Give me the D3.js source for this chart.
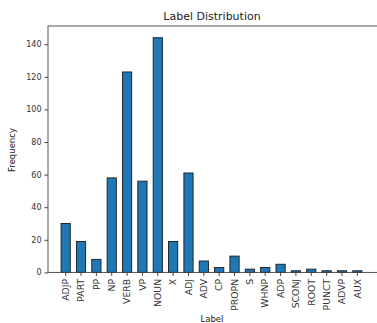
<!DOCTYPE html>
<html><head><meta charset="utf-8">
<script src="https://cdn.jsdelivr.net/npm/d3@7"></script>
<style>
html,body{margin:0;padding:0;background:#fff;overflow:hidden;}
svg{display:block;font-family:"DejaVu Sans",sans-serif;}
</style></head>
<body>
<svg id="chart" width="377" height="323"></svg>
<script>
const categories = ["ADJP","PART","PP","NP","VERB","VP","NOUN","X","ADJ","ADV","CP","PROPN","S","WHNP","ADP","SCONJ","ROOT","PUNCT","ADVP","AUX"];
const frequencies = [30,19,8,58,123,56,144,19,61,7,3,10,2,3,5,1,2,1,1,1];
const yTicks = [0,20,40,60,80,100,120,140];
const title = "Label Distribution";
const xLabel = "Label";
const yLabel = "Frequency";

(function(){
const svg = d3.select("#chart");
const pLeft = 48, pRight = 380, pTop = 26, pBottom = 272.4;

const x = d3.scaleBand().domain(categories).range([58, 365]).paddingInner(0).paddingOuter(0);
const y = d3.scaleLinear().domain([0, d3.max(frequencies) * 1.05]).range([pBottom, pTop]);
const barW = x.bandwidth() * 0.6;

// bars
svg.append("g").selectAll("rect").data(categories).join("rect")
  .attr("x", (d) => x(d) + x.bandwidth()/2 - barW/2)
  .attr("y", (d, i) => y(frequencies[i]))
  .attr("width", barW)
  .attr("height", (d, i) => pBottom - y(frequencies[i]))
  .attr("fill", "#1f77b4")
  .attr("stroke", "#1a1a1a")
  .attr("stroke-width", 0.9);

// frame
svg.append("rect").attr("x", pLeft).attr("y", pTop).attr("width", pRight - pLeft).attr("height", pBottom - pTop)
  .attr("fill", "none").attr("stroke", "#444").attr("stroke-width", 0.9);

// y axis
const ya = svg.append("g").attr("transform", `translate(${pLeft},0)`)
  .call(d3.axisLeft(y).tickValues(yTicks).tickSize(3.5).tickPadding(3));
ya.select(".domain").remove();
ya.selectAll("line").attr("stroke", "#444");
ya.selectAll("text").attr("font-size", "8px").attr("fill", "#333").attr("font-family", "DejaVu Sans");

// x axis
const xa = svg.append("g").attr("transform", `translate(0,${pBottom})`)
  .call(d3.axisBottom(x).tickSize(3.5).tickPadding(3));
xa.select(".domain").remove();
xa.selectAll("line").attr("stroke", "#444");
xa.selectAll("text").attr("font-size", "9.3px").attr("fill", "#333").attr("font-family", "DejaVu Sans")
  .attr("text-anchor", "end").attr("transform", "rotate(-90)")
  .attr("x", -6.5).attr("y", 0).attr("dy", "0.35em");

// title
svg.append("text").attr("x", 212).attr("y", 19.5).attr("text-anchor", "middle")
  .attr("font-size", "11px").attr("fill", "#222").text(title);
// x label
svg.append("text").attr("x", 212).attr("y", 322).attr("text-anchor", "middle")
  .attr("font-size", "8.5px").attr("fill", "#222").text(xLabel);
// y label
svg.append("text").attr("transform", "translate(15,150) rotate(-90)").attr("text-anchor", "middle")
  .attr("font-size", "8.5px").attr("fill", "#222").text(yLabel);
})();
</script>
</body></html>
